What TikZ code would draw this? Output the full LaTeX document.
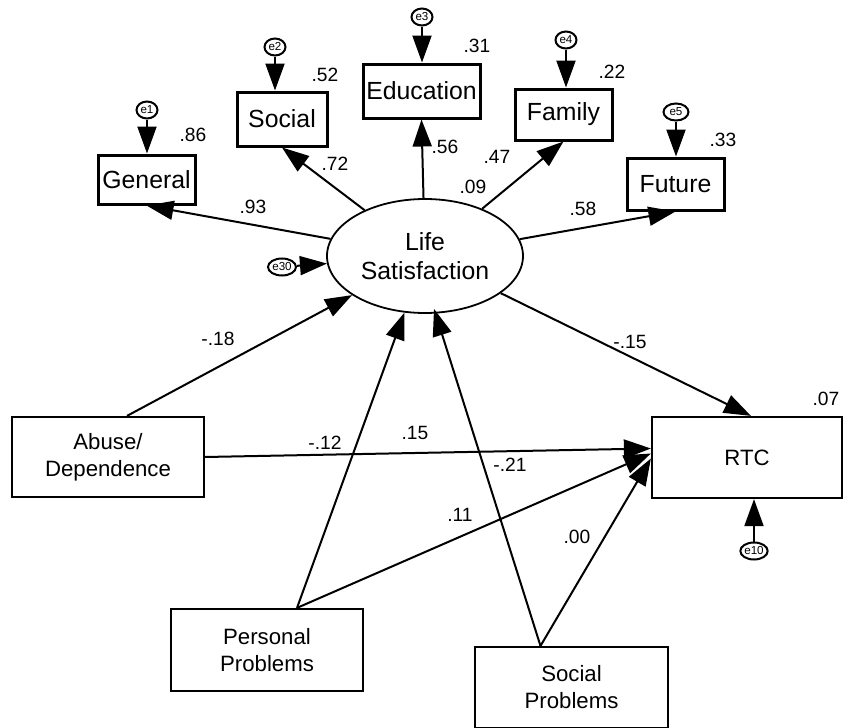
\documentclass[tikz,border=0pt]{standalone}
\usepackage{fontspec}
\setmainfont{Liberation Sans}
\usetikzlibrary{shapes.geometric, arrows.meta, calc}

\begin{document}
\begin{tikzpicture}[
    x=0.5pt, y=-0.5pt,
    ind/.style={draw, rectangle, line width=1.5pt, inner sep=0pt,
      minimum width=48.5pt, minimum height=26pt, font=\fontsize{12.4}{14}\selectfont},
    pred/.style={draw, rectangle, line width=1.1pt, inner sep=0pt, align=center,
      minimum width=96pt, minimum height=40.5pt, font=\fontsize{11.1}{13.5}\selectfont},
    latent/.style={draw, ellipse, line width=0.9pt, inner sep=0pt, align=center,
      minimum width=98pt, minimum height=57pt, font=\fontsize{12.4}{14.5}\selectfont},
    err/.style={draw, ellipse, line width=1pt, inner sep=0pt,
      minimum width=10.5pt, minimum height=8.5pt, font=\fontsize{5.8}{6}\selectfont},
    coef/.style={inner sep=0pt, font=\fontsize{9.6}{11}\selectfont},
    arrow/.style={line width=1pt, -{Triangle[length=13.5pt, width=9.5pt]}}
]
\useasboundingbox (0,0) rectangle (843,728);

\node[latent] (ls) at (425,256) {Life\\Satisfaction};

\node[ind, minimum height=24.5pt] (general) at (146.5,179.5) {General};
\node[ind, minimum width=45pt, minimum height=27pt] (social) at (282,119) {Social};
\node[ind, minimum width=58.5pt, minimum height=27pt] (education) at (421.5,91) {Education};
\node[ind, minimum height=25.5pt] (family) at (563.5,114.5) {Family};
\node[ind] (future) at (675.5,184) {Future};

\node[pred, minimum height=40pt] (abuse) at (108,457) {Abuse/\\Dependence};
\node[pred, minimum width=95pt] (rtc) at (747,457.5) {RTC};
\node[pred, minimum height=41pt] (personal) at (267,650) {Personal\\Problems};
\node[pred, minimum width=96.5pt] (socprob) at (571.5,687.5) {Social\\Problems};

\node[err] (e1) at (147,110) {e1};
\node[err] (e2) at (275,47) {e2};
\node[err] (e3) at (422,17) {e3};
\node[err] (e4) at (566,40) {e4};
\node[err, minimum width=12.5pt] (e5) at (676,112) {e5};
\node[err, minimum width=14pt] (e30) at (282,267) {e30};
\node[err, minimum width=12.5pt] (e10) at (754,551) {e10};

\node[coef] (r86) at (193,135) {.86};
\node[coef] (r52) at (325,75) {.52};
\node[coef] (r31) at (477,46) {.31};
\node[coef] (r22) at (612,72) {.22};
\node[coef] (r33) at (723,140) {.33};
\node[coef] (r07) at (826,399) {.07};

\node[coef] (w93) at (253,207) {.93};
\node[coef] (w72) at (335,164) {.72};
\node[coef] (w56) at (445,147) {.56};
\node[coef] (w47) at (497,157) {.47};
\node[coef] (w09) at (473,187) {.09};
\node[coef] (w58) at (583,209) {.58};
\node[coef] (w18) at (218,339) {-.18};
\node[coef] (w12) at (325,443) {-.12};
\node[coef] (w15a) at (415,433) {.15};
\node[coef] (w21) at (510,465) {-.21};
\node[coef] (w11) at (460,515) {.11};
\node[coef] (w00) at (577,537) {.00};
\node[coef] (w15b) at (630,342) {-.15};

\draw[arrow] (e1) -- (e1 |- general.north);
\draw[arrow] (e2) -- (e2 |- social.north);
\draw[arrow] (e3) -- (e3 |- education.north);
\draw[arrow] (e4) -- (e4 |- family.north);
\draw[arrow] (e5) -- (e5 |- future.north);
\draw[arrow] (e10) -- (e10 |- rtc.south);
\draw[arrow] (e30) -- (ls);

\draw[arrow] (ls) -- (general.south);
\draw[arrow] (ls) -- (social.south);
\draw[arrow] (ls) -- (education.south);
\draw[arrow] (ls) -- (family.south);
\draw[arrow] (ls) -- (future.south);
\draw[arrow] (ls) -- ($(rtc.north)+(4,0)$);

\draw[arrow] ($(abuse.north)+(19,0)$) -- (ls);
\draw[arrow] ($(personal.north)+(30,0)$) -- (ls);
\draw[arrow] ($(socprob.north)+(-31,0)$) -- ($(ls.south)+(9,-5)$);
\draw[arrow] (abuse.east) -- ($(rtc.west)+(0,-9)$);
\draw[arrow] ($(personal.north)+(30,0)$) -- ($(rtc.west)+(0,-4)$);
\draw[arrow] ($(socprob.north)+(-31,0)$) -- ($(rtc.west)+(0,1)$);
\end{tikzpicture}
\end{document}
